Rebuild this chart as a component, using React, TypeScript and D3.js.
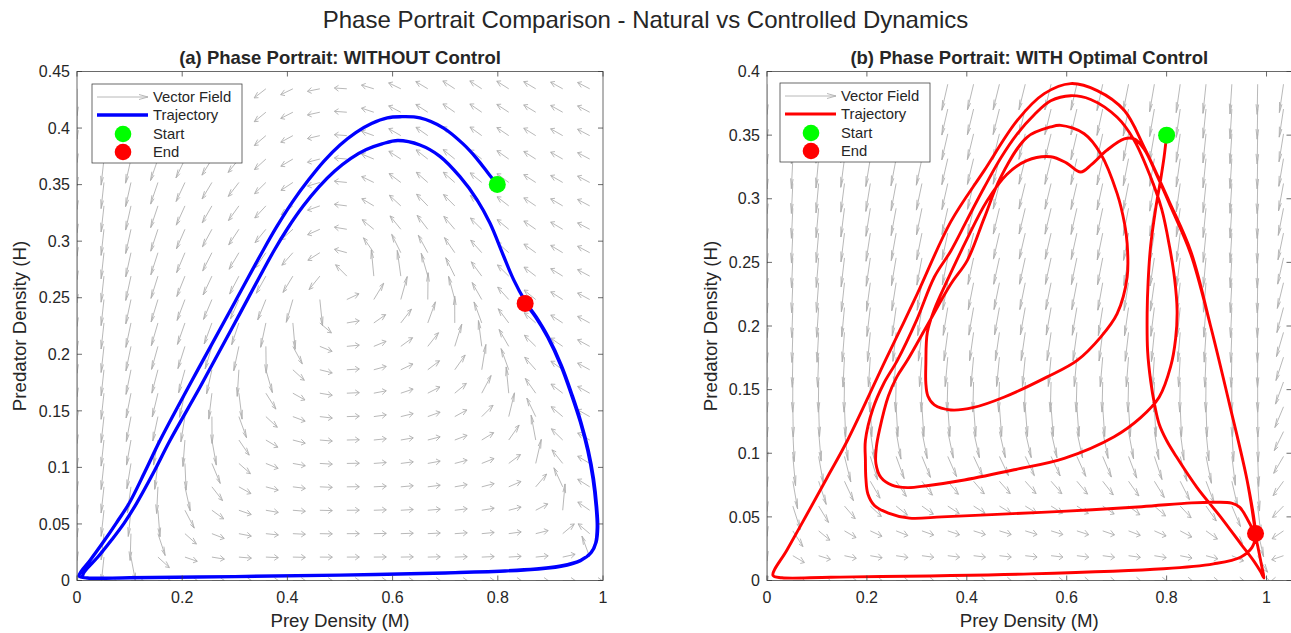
import React from "react";
import * as d3 from "d3";

// ---------------- data ----------------
// Trajectory WITHOUT control (blue)
const naturalM = [0.799, 0.785, 0.76, 0.734, 0.697, 0.652, 0.614, 0.59, 0.56, 0.53, 0.5, 0.47, 0.44, 0.41, 0.38, 0.354, 0.3, 0.234, 0.158, 0.13, 0.1, 0.075, 0.05, 0.025, 0.008, 0.004, 0.02, 0.1, 0.3, 0.5, 0.7, 0.85, 0.92, 0.958, 0.978, 0.987, 0.99, 0.988, 0.982, 0.972, 0.958, 0.942, 0.921, 0.896, 0.873, 0.852, 0.83, 0.81, 0.785, 0.76, 0.728, 0.69, 0.652, 0.61, 0.58, 0.55, 0.52, 0.49, 0.46, 0.43, 0.4, 0.375, 0.3, 0.234, 0.177, 0.145, 0.113, 0.09, 0.066, 0.04, 0.02, 0.012, 0.011, 0.03, 0.1, 0.3, 0.5, 0.7, 0.85, 0.92, 0.957, 0.977, 0.986, 0.989, 0.987, 0.981, 0.971, 0.957, 0.941, 0.92, 0.895, 0.872, 0.852];
const naturalH = [0.35, 0.358, 0.373, 0.386, 0.4, 0.409, 0.41, 0.409, 0.404, 0.396, 0.385, 0.371, 0.354, 0.335, 0.313, 0.292, 0.246, 0.19, 0.124, 0.097, 0.069, 0.051, 0.034, 0.018, 0.008, 0.004, 0.0022, 0.0025, 0.0035, 0.0048, 0.0068, 0.0095, 0.013, 0.018, 0.025, 0.034, 0.047, 0.065, 0.09, 0.115, 0.14, 0.163, 0.19, 0.215, 0.233, 0.247, 0.266, 0.288, 0.316, 0.337, 0.357, 0.375, 0.385, 0.389, 0.386, 0.381, 0.373, 0.362, 0.348, 0.331, 0.311, 0.292, 0.2276, 0.171, 0.124, 0.095, 0.068, 0.051, 0.036, 0.021, 0.011, 0.006, 0.003, 0.0021, 0.0024, 0.0034, 0.0047, 0.0066, 0.0092, 0.0125, 0.0175, 0.0245, 0.033, 0.047, 0.065, 0.09, 0.115, 0.14, 0.163, 0.19, 0.215, 0.233, 0.245];

// Trajectory WITH optimal control (red)
const controlledM = [0.8, 0.795, 0.788, 0.778, 0.768, 0.763, 0.761, 0.762, 0.768, 0.776, 0.785, 0.8, 0.82, 0.861, 0.908, 0.948, 0.975, 0.988, 0.995, 0.99, 0.984, 0.977, 0.962, 0.946, 0.93, 0.9, 0.85, 0.75, 0.6, 0.45, 0.35, 0.285, 0.243, 0.215, 0.202, 0.198, 0.197, 0.197, 0.212, 0.234, 0.261, 0.3, 0.335, 0.368, 0.4, 0.435, 0.468, 0.501, 0.535, 0.568, 0.608, 0.648, 0.701, 0.735, 0.768, 0.79, 0.806, 0.816, 0.821, 0.818, 0.808, 0.785, 0.748, 0.695, 0.595, 0.495, 0.395, 0.32, 0.281, 0.25, 0.228, 0.218, 0.219, 0.225, 0.243, 0.26, 0.281, 0.32, 0.368, 0.401, 0.435, 0.468, 0.521, 0.568, 0.588, 0.635, 0.668, 0.701, 0.716, 0.721, 0.721, 0.701, 0.668, 0.621, 0.561, 0.474, 0.414, 0.368, 0.335, 0.322, 0.318, 0.318, 0.321, 0.335, 0.36, 0.4, 0.44, 0.48, 0.52, 0.568, 0.6, 0.628, 0.65, 0.68, 0.715, 0.735, 0.755, 0.781, 0.808, 0.848, 0.888, 0.925, 0.961, 0.976, 0.978, 0.971, 0.948, 0.894, 0.794, 0.528, 0.128, 0.03, 0.012, 0.04, 0.08, 0.12, 0.161, 0.237, 0.266, 0.301, 0.368, 0.435, 0.501, 0.555, 0.608, 0.661, 0.715, 0.755, 0.805, 0.849, 0.888, 0.925, 0.961, 0.978];
const controlledH = [0.35, 0.333, 0.315, 0.292, 0.263, 0.235, 0.21, 0.18, 0.157, 0.138, 0.123, 0.11, 0.097, 0.073, 0.05, 0.029, 0.015, 0.007, 0.002, 0.012, 0.024, 0.0355, 0.048, 0.0576, 0.0608, 0.0615, 0.061, 0.058, 0.0545, 0.0518, 0.05, 0.049, 0.053, 0.059, 0.068, 0.08, 0.095, 0.11, 0.135, 0.155, 0.173, 0.205, 0.2385, 0.259, 0.283, 0.309, 0.332, 0.351, 0.366, 0.377, 0.381, 0.378, 0.364, 0.346, 0.317, 0.292, 0.262, 0.237, 0.212, 0.19, 0.168, 0.144, 0.128, 0.113, 0.096, 0.087, 0.079, 0.0745, 0.073, 0.075, 0.081, 0.092, 0.105, 0.118, 0.145, 0.16, 0.173, 0.2, 0.233, 0.2516, 0.285, 0.317, 0.3485, 0.3564, 0.3577, 0.3511, 0.3354, 0.304, 0.28, 0.2647, 0.2385, 0.2097, 0.1913, 0.173, 0.16, 0.144, 0.136, 0.134, 0.138, 0.145, 0.155, 0.17, 0.195, 0.213, 0.235, 0.268, 0.298, 0.319, 0.33, 0.333, 0.328, 0.321, 0.327, 0.338, 0.347, 0.347, 0.339, 0.318, 0.294, 0.257, 0.2, 0.14, 0.079, 0.045, 0.035, 0.026, 0.0183, 0.0131, 0.0092, 0.0052, 0.0026, 0.0022, 0.004, 0.024, 0.052, 0.0806, 0.11, 0.173, 0.1965, 0.2254, 0.282, 0.3223, 0.3616, 0.3826, 0.3905, 0.385, 0.3695, 0.3406, 0.298, 0.258, 0.2, 0.14, 0.079, 0.037];

// axis ticks
const xTicks = [0, 0.2, 0.4, 0.6, 0.8, 1];
const yTicksA = [0, 0.05, 0.1, 0.15, 0.2, 0.25, 0.3, 0.35, 0.4, 0.45];
const yTicksB = [0, 0.05, 0.1, 0.15, 0.2, 0.25, 0.3, 0.35, 0.4];

// quiver grids
const gridStepMA = 0.0513, gridCountMA = 20, gridStepHA = 0.0207, gridCountHA = 22;
const gridStepMB = 0.0517, gridCountMB = 21, gridStepHB = 0.0195, gridCountHB = 21;
const gridMA = d3.range(gridCountMA).map((i) => i * gridStepMA);
const gridHA = d3.range(gridCountHA).map((i) => i * gridStepHA);
const gridMB = d3.range(gridCountMB).map((i) => i * gridStepMB);
const gridHB = d3.range(gridCountHB).map((i) => i * gridStepHB);

// model parameters for the direction fields
const natural = { lambda: 2.5, c: 0.632, allee: 0.05, b: 2.5, k: 1.2, mStar: 0.5 };
const controlled = { c: 1.0, h0: 0.15, beta: 0.45, overshoot: 1.85 };

function preyNullcline(m: number) {
  const q = 1 - m;
  const pw = Math.sign(q) * Math.pow(Math.abs(q), 1.3);
  return natural.c * pw * (m - natural.allee) * (1 + natural.b * m);
}
function fieldNatural(m: number, h: number): [number, number] {
  const f = natural.lambda * m * (preyNullcline(m) - h);
  const g = natural.k * h * (m - natural.mStar);
  return [f, g];
}
function fieldControlled(m: number, h: number): [number, number] {
  const f =
    m <= 1
      ? (controlled.c * m * (1 - m) * (controlled.h0 - h)) / (controlled.h0 + h)
      : -controlled.c * controlled.overshoot * m * (m - 1);
  const g = -controlled.beta * h;
  return [f, g];
}

// ---------------- layout ----------------
const W = 1291;
const HGT = 633;
const FONT = "'Liberation Sans', Arial, Helvetica, sans-serif";
const TEXT = "#262626";
const AXIS = "#3a3a3a";
const ARROW = "#b0b0b0";

type PanelProps = {
  id: string;
  x0: number; x1: number; y0: number; y1: number;
  xDomain: [number, number]; yDomain: [number, number];
  yTicks: number[];
  gridM: number[]; gridH: number[];
  field: (m: number, h: number) => [number, number];
  arrowLen: number;
  trajM: number[]; trajH: number[];
  color: string; lw: number;
  title: string;
  ylabelX: number;
  legendX: number; legendY: number;
};

function fmt(t: number) {
  return String(+t.toFixed(2));
}

function Panel(p: PanelProps) {
  const x = d3.scaleLinear().domain(p.xDomain).range([p.x0, p.x1]);
  const y = d3.scaleLinear().domain(p.yDomain).range([p.y0, p.y1]);

  let arrows = "";
  const al = 0.33, be = 0.33;
  for (const m of p.gridM) {
    for (const h of p.gridH) {
      const [f, g] = p.field(m, h);
      const n = Math.hypot(f, g);
      if (!(n > 1e-12)) continue;
      const u = (f / n) * p.arrowLen;
      const v = (g / n) * p.arrowLen;
      const hx = m + u, hy = h + v;
      const b1x = hx - al * (u + be * v), b1y = hy - al * (v - be * u);
      const b2x = hx - al * (u - be * v), b2y = hy - al * (v + be * u);
      arrows += `M${x(m).toFixed(2)},${y(h).toFixed(2)}L${x(hx).toFixed(2)},${y(hy).toFixed(2)}`;
      arrows += `M${x(b1x).toFixed(2)},${y(b1y).toFixed(2)}L${x(hx).toFixed(2)},${y(hy).toFixed(2)}L${x(b2x).toFixed(2)},${y(b2y).toFixed(2)}`;
    }
  }

  const pts: [number, number][] = p.trajM.map((m, i) => [m, p.trajH[i]]);
  const line = d3
    .line<[number, number]>()
    .x((d) => x(d[0]))
    .y((d) => y(d[1]))
    .curve(d3.curveCatmullRom.alpha(0.5));
  const start = pts[0];
  const end = pts[pts.length - 1];

  const tl = 5;
  const xt = xTicks.filter((t) => t <= p.xDomain[1] + 1e-9);
  const lx = p.legendX, ly = p.legendY;
  const rows = [13, 31, 50, 68];

  return (
    <g>
      <defs>
        <clipPath id={`clip-${p.id}`}>
          <rect x={p.x0} y={p.y1} width={p.x1 - p.x0} height={p.y0 - p.y1} />
        </clipPath>
      </defs>
      <g clipPath={`url(#clip-${p.id})`}>
        <path d={arrows} fill="none" stroke={ARROW} strokeWidth={0.9} />
        <path d={line(pts) || ""} fill="none" stroke={p.color} strokeWidth={p.lw} strokeLinejoin="round" strokeLinecap="round" />
        <circle cx={x(start[0])} cy={y(start[1])} r={8.5} fill="#00ff00" />
        <circle cx={x(end[0])} cy={y(end[1])} r={8.5} fill="#ff0000" />
      </g>
      <rect x={p.x0} y={p.y1} width={p.x1 - p.x0} height={p.y0 - p.y1} fill="none" stroke={AXIS} strokeWidth={0.75} />
      {xt.map((t) => (
        <g key={`xt${t}`}>
          <line x1={x(t)} x2={x(t)} y1={p.y0} y2={p.y0 - tl} stroke={AXIS} strokeWidth={0.75} />
          <line x1={x(t)} x2={x(t)} y1={p.y1} y2={p.y1 + tl} stroke={AXIS} strokeWidth={0.75} />
          <text x={x(t)} y={p.y0 + 22} textAnchor="middle" fontSize={16} fill={TEXT} fontFamily={FONT}>
            {fmt(t)}
          </text>
        </g>
      ))}
      {p.yTicks.map((t) => (
        <g key={`yt${t}`}>
          <line x1={p.x0} x2={p.x0 + tl} y1={y(t)} y2={y(t)} stroke={AXIS} strokeWidth={0.75} />
          <line x1={p.x1} x2={p.x1 - tl} y1={y(t)} y2={y(t)} stroke={AXIS} strokeWidth={0.75} />
          <text x={p.x0 - 7} y={y(t) + 5.7} textAnchor="end" fontSize={16} fill={TEXT} fontFamily={FONT}>
            {fmt(t)}
          </text>
        </g>
      ))}
      <text x={(p.x0 + p.x1) / 2} y={64} textAnchor="middle" fontSize={18.5} fontWeight="bold" fill={TEXT} fontFamily={FONT}>
        {p.title}
      </text>
      <text x={(p.x0 + p.x1) / 2} y={627} textAnchor="middle" fontSize={18.7} fill={TEXT} fontFamily={FONT}>
        Prey Density (M)
      </text>
      <text
        transform={`translate(${p.ylabelX},${(p.y0 + p.y1) / 2}) rotate(-90)`}
        textAnchor="middle"
        fontSize={18.7}
        fill={TEXT}
        fontFamily={FONT}
      >
        Predator Density (H)
      </text>
      <g>
        <rect x={lx} y={ly} width={150} height={79} fill="#ffffff" stroke={AXIS} strokeWidth={0.75} />
        <line x1={lx + 5} x2={lx + 56} y1={ly + rows[0]} y2={ly + rows[0]} stroke={ARROW} strokeWidth={0.9} />
        <path d={`M${lx + 47},${ly + rows[0] - 2.5}L${lx + 56},${ly + rows[0]}L${lx + 47},${ly + rows[0] + 2.5}`} fill="none" stroke={ARROW} strokeWidth={0.9} />
        <line x1={lx + 5} x2={lx + 56} y1={ly + rows[1]} y2={ly + rows[1]} stroke={p.color} strokeWidth={p.lw} />
        <circle cx={lx + 31} cy={ly + rows[2]} r={8.3} fill="#00ff00" />
        <circle cx={lx + 31} cy={ly + rows[3]} r={8.3} fill="#ff0000" />
        {["Vector Field", "Trajectory", "Start", "End"].map((s, i) => (
          <text key={s} x={lx + 61} y={ly + rows[i] + 5.3} fontSize={14.8} fill={TEXT} fontFamily={FONT}>
            {s}
          </text>
        ))}
      </g>
    </g>
  );
}

export default function App() {
  return (
    <div style={{ position: "absolute", left: 0, top: 0, width: W, height: HGT, background: "#ffffff" }}>
      <svg width={W} height={HGT} viewBox={`0 0 ${W} ${HGT}`} style={{ display: "block" }}>
        <rect x={0} y={0} width={W} height={HGT} fill="#ffffff" />
        <text x={645.5} y={28} textAnchor="middle" fontSize={24} fill={TEXT} fontFamily={FONT}>
          Phase Portrait Comparison - Natural vs Controlled Dynamics
        </text>
        <Panel
          id="a"
          x0={77} x1={603} y0={580.5} y1={71.5}
          xDomain={[0, 1]} yDomain={[0, 0.45]}
          yTicks={yTicksA}
          gridM={gridMA} gridH={gridHA}
          field={fieldNatural}
          arrowLen={0.0237}
          trajM={naturalM} trajH={naturalH}
          color="#0000ff" lw={3.3}
          title="(a) Phase Portrait: WITHOUT Control"
          ylabelX={26}
          legendX={92} legendY={84}
        />
        <Panel
          id="b"
          x0={767} x1={1291.5} y0={580.5} y1={71.5}
          xDomain={[0, 1.05]} yDomain={[0, 0.4]}
          yTicks={yTicksB}
          gridM={gridMB} gridH={gridHB}
          field={fieldControlled}
          arrowLen={0.0237}
          trajM={controlledM} trajH={controlledH}
          color="#ff0000" lw={2.9}
          title="(b) Phase Portrait: WITH Optimal Control"
          ylabelX={717}
          legendX={780} legendY={83}
        />
      </svg>
    </div>
  );
}
